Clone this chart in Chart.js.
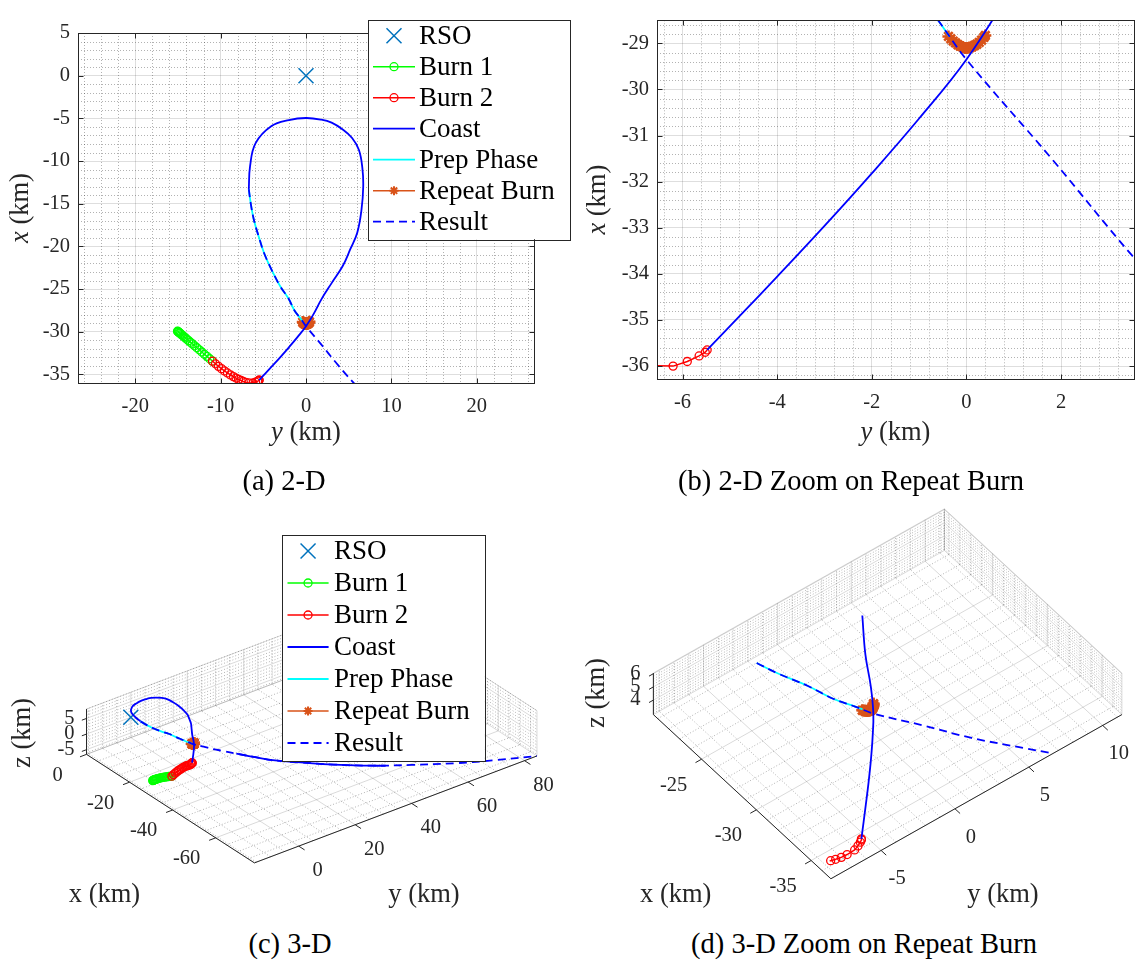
<!DOCTYPE html>
<html>
<head>
<meta charset="utf-8">
<script src="https://cdn.jsdelivr.net/npm/chart.js@4.4.1/dist/chart.umd.min.js"></script>
<style>
  body { margin: 0; background: #fff; }
  #fig { position: relative; width: 1146px; height: 961px; font-family: 'Liberation Serif', serif; color: #000; }
  #fig canvas { position: absolute; }
  .cap { position: absolute; font-size: 28.5px; transform: translate(-50%, -50%); white-space: nowrap; }
</style>
</head>
<body>
<div id="fig">
  <canvas id="ca" width="573" height="460" style="left:0;top:0"></canvas>
  <canvas id="cb" width="573" height="460" style="left:573px;top:0"></canvas>
  <canvas id="cc" width="573" height="430" style="left:0;top:490px"></canvas>
  <canvas id="cd" width="573" height="430" style="left:573px;top:490px"></canvas>
  <div class="cap" style="left:284px;top:481px">(a) 2-D</div>
  <div class="cap" style="left:851px;top:481px">(b) 2-D Zoom on Repeat Burn</div>
  <div class="cap" style="left:290px;top:944px">(c) 3-D</div>
  <div class="cap" style="left:864px;top:944px">(d) 3-D Zoom on Repeat Burn</div>
</div>
<script>
// trajectory pieces, every point is [x, y, z] in km
const rso = [[0, 0, 0]];
const burn1 = [
  [-29.94, -15.05, -1.8], [-29.97, -15.0, -1.75], [-30.01, -14.95, -1.7], [-30.07, -14.88, -1.65],
  [-30.14, -14.8, -1.6], [-30.22, -14.7, -1.52], [-30.33, -14.58, -1.45], [-30.44, -14.45, -1.37],
  [-30.57, -14.3, -1.28], [-30.71, -14.13, -1.2], [-30.87, -13.95, -1.1], [-31.04, -13.75, -1.0],
  [-31.23, -13.53, -0.92], [-31.42, -13.3, -0.83], [-31.64, -13.05, -0.75], [-31.87, -12.78, -0.66],
  [-32.11, -12.5, -0.58], [-32.37, -12.2, -0.5], [-32.63, -11.9, -0.42], [-32.88, -11.6, -0.35],
  [-33.16, -11.28, -0.27], [-33.44, -10.95, -0.2]
];
const burn2 = [
  [-33.44, -10.95, -0.2], [-33.75, -10.6, 0.3], [-34.05, -10.25, 0.8], [-34.32, -9.9, 1.2],
  [-34.58, -9.55, 1.6], [-34.82, -9.2, 1.9], [-35.05, -8.85, 2.2], [-35.25, -8.5, 2.45],
  [-35.42, -8.2, 2.65], [-35.57, -7.9, 2.8], [-35.7, -7.6, 2.92], [-35.82, -7.35, 2.96],
  [-35.93, -7.05, 3.0], [-35.99, -6.7, 3.04], [-36.0, -6.2, 3.08], [-35.9, -5.9, 3.12],
  [-35.78, -5.65, 3.15], [-35.7, -5.52, 3.18], [-35.65, -5.48, 3.2]
];
const coast1 = [
  [-35.65, -5.48, 3.2], [-34.87, -4.75, 3.45], [-34.06, -4.0, 3.65], [-32.96, -3.0, 3.85],
  [-31.82, -2.0, 4.0], [-30.63, -1.0, 4.2], [-29.35, 0.0, 4.4], [-27.9, 0.9, 4.8],
  [-26.2, 1.8, 5.3], [-24.3, 3.0, 6.05], [-22.3, 4.3, 6.5], [-20.3, 5.2, 6.8],
  [-18.4, 6.0, 7.0], [-15.7, 6.5, 7.2], [-13.0, 6.7, 7.35], [-10.8, 6.6, 7.45],
  [-8.7, 6.2, 7.55], [-7.3, 5.4, 7.6], [-6.3, 4.3, 7.65], [-5.5, 3.0, 7.65],
  [-5.15, 1.8, 7.6], [-4.96, 0.0, 7.55], [-5.2, -2.0, 7.45], [-5.9, -4.04, 7.35],
  [-7.9, -5.9, 7.2], [-10.6, -6.55, 7.05], [-13.3, -6.7, 6.9]
];
const coast2 = [
  [-38.5, 8.0, 2.8], [-42, 11.5, 2.1], [-46, 16, 1.2], [-50, 22, 0.3],
  [-55, 30, -0.9], [-60, 39, -2.1], [-62, 43, -2.6]
];
const prep = [
  [-13.3, -6.7, 6.9], [-15.1, -6.45, 6.75], [-16.9, -6.1, 6.6], [-18.8, -5.55, 6.45],
  [-20.8, -4.9, 6.35], [-22.8, -4.0, 6.25], [-24.7, -3.0, 5.75], [-26.1, -2.05, 5.3],
  [-27.5, -1.35, 4.95], [-28.5, -0.6, 4.65], [-28.85, -0.36, 4.55]
];
const repeatBurn = [
  [-28.85, -0.38, 4.5], [-28.9, -0.33, 4.49], [-28.95, -0.28, 4.48], [-28.99, -0.23, 4.47],
  [-29.03, -0.18, 4.46], [-29.06, -0.13, 4.46], [-29.08, -0.08, 4.45], [-29.1, -0.03, 4.45],
  [-29.1, 0.02, 4.45], [-29.09, 0.07, 4.45], [-29.07, 0.12, 4.46], [-29.05, 0.17, 4.46],
  [-29.02, 0.22, 4.47], [-28.98, 0.27, 4.48], [-28.93, 0.32, 4.49], [-28.87, 0.37, 4.5],
  [-28.83, 0.4, 4.5]
];
const result = [
  [-13.3, -6.7, 6.9], [-15.1, -6.45, 6.75], [-16.9, -6.1, 6.6], [-18.8, -5.55, 6.45],
  [-20.8, -4.9, 6.35], [-22.8, -4.0, 6.25], [-24.7, -3.0, 5.75], [-26.1, -2.05, 5.3],
  [-27.5, -1.35, 4.95], [-28.5, -0.6, 4.65], [-29.35, 0.0, 4.4], [-31.5, 1.8, 4.0],
  [-33.6, 3.5, 3.6], [-35.9, 5.5, 3.3], [-38.5, 8.0, 2.8], [-42, 11.5, 2.1],
  [-46, 16, 1.2], [-50, 22, 0.3], [-55, 30, -0.9], [-60, 39, -2.1],
  [-65, 50, -3.4], [-70, 62, -4.7], [-74, 73, -5.7], [-78, 84.4, -6.5]
];

// tick labels
const ticksAx = [-20, -10, 0, 10, 20];
const ticksAy = [-35, -30, -25, -20, -15, -10, -5, 0, 5];
const ticksBx = [-6, -4, -2, 0, 2];
const ticksBy = [-36, -35, -34, -33, -32, -31, -30, -29];
const ticksCx = [-60, -40, -20, 0];
const ticksCy = [0, 20, 40, 60, 80];
const ticksCz = [-5, 0, 5];
const ticksDx = [-35, -30, -25];
const ticksDy = [-5, 0, 5, 10];
const ticksDz = [4, 5, 6];

const series = [
  { label: 'RSO', pts: rso, color: '#0072BD', marker: 'crossRot', r: 10.6, mw: 1.5, lw: 0 },
  { label: 'Burn 1', pts: burn1, color: '#00FF00', marker: 'circle', r: 4, mw: 1.3, lw: 1.5 },
  { label: 'Burn 2', pts: burn2, color: '#FF0000', marker: 'circle', r: 4, mw: 1.3, lw: 1.5 },
  { label: 'Coast', pts: [...coast1, null, ...coast2], color: '#0000FF', lw: 1.8, smooth: true },
  { label: 'Prep Phase', pts: prep, color: '#00FFFF', lw: 1.8, smooth: true },
  { label: 'Repeat Burn', pts: repeatBurn, color: '#D95319', marker: 'star', r: 6, mw: 2.6, lw: 1.5, legendR: 4.5, legendW: 2 },
  { label: 'Result', pts: result, color: '#0000FF', lw: 1.8, dash: [8, 5], smooth: true }
];
// first one ends up on top
const drawOrder = ['Result', 'Prep Phase', 'Coast', 'Repeat Burn', 'Burn 2', 'Burn 1', 'RSO'];

Chart.defaults.font.family = "'Liberation Serif', serif";
Chart.defaults.font.size = 20.5;
Chart.defaults.color = '#262626';

const FONT = "'Liberation Serif', serif";
const INK = '#262626';
const MAJOR = 'rgba(0,0,0,0.13)';
const MINOR = 'rgba(0,0,0,0.3)';

function steps(lo, hi, step) {
  const out = [];
  for (let k = Math.ceil(lo / step - 1e-9); k * step <= hi + 1e-9; k++) out.push(+(k * step).toFixed(6));
  return out;
}
const notIn = list => v => !list.some(m => Math.abs(m - v) < 1e-6);

function marker(ctx, style, x, y, r) {
  ctx.beginPath();
  if (style === 'circle') {
    ctx.arc(x, y, r, 0, Math.PI * 2);
  } else {
    const d = r * Math.SQRT1_2;
    ctx.moveTo(x - d, y - d); ctx.lineTo(x + d, y + d);
    ctx.moveTo(x + d, y - d); ctx.lineTo(x - d, y + d);
    if (style === 'star') {
      ctx.moveTo(x - r, y); ctx.lineTo(x + r, y);
      ctx.moveTo(x, y - r); ctx.lineTo(x, y + r);
    }
  }
  ctx.stroke();
}

function mixedText(ctx, parts, x, y, rot) {
  ctx.save();
  ctx.translate(x, y);
  if (rot) ctx.rotate(rot);
  ctx.fillStyle = INK;
  ctx.textBaseline = 'middle';
  const w = parts.map(p => { ctx.font = p[1]; return ctx.measureText(p[0]).width; });
  let cx = -w.reduce((a, b) => a + b, 0) / 2;
  parts.forEach((p, i) => { ctx.font = p[1]; ctx.fillText(p[0], cx, 0); cx += w[i]; });
  ctx.restore();
}
const label = (name, italic) => [[name, (italic ? 'italic ' : '') + '26.5px ' + FONT], [' (km)', '26.5px ' + FONT]];

const legendBox = {
  id: 'legendBox',
  afterDraw(chart, args, o) {
    const ctx = chart.ctx;
    ctx.save();
    ctx.fillStyle = '#fff';
    ctx.fillRect(o.left, o.top, o.width, o.height);
    ctx.strokeStyle = INK; ctx.lineWidth = 1;
    ctx.strokeRect(Math.round(o.left) + 0.5, Math.round(o.top) + 0.5, Math.round(o.width), Math.round(o.height));
    ctx.font = '27px ' + FONT;
    ctx.textBaseline = 'middle';
    series.forEach((s, i) => {
      const y = o.firstRow + i * o.rowGap;
      ctx.strokeStyle = s.color;
      if (s.lw) {
        ctx.lineWidth = s.lw;
        ctx.setLineDash(s.dash || []);
        ctx.beginPath(); ctx.moveTo(o.lineX0, y); ctx.lineTo(o.lineX1, y); ctx.stroke();
        ctx.setLineDash([]);
      }
      if (s.marker) {
        ctx.lineWidth = s.legendW || s.mw;
        marker(ctx, s.marker, (o.lineX0 + o.lineX1) / 2, y, s.legendR || (s.marker === 'circle' ? 4 : s.r));
      }
      ctx.fillStyle = '#000';
      ctx.fillText(s.label, o.textX, y + 1);
    });
    ctx.restore();
  }
};

// minor grid, box, inward ticks and axis titles of the 2-D plots
const frame2d = {
  id: 'frame2d',
  beforeDatasetsDraw(chart, args, o) {
    const { ctx, chartArea: a, scales: { x, y } } = chart;
    ctx.save();
    ctx.strokeStyle = MINOR; ctx.lineWidth = 1; ctx.setLineDash([1, 2]);
    ctx.beginPath();
    steps(x.min, x.max, o.minorX).filter(notIn(o.ticksX)).forEach(v => {
      const p = Math.round(x.getPixelForValue(v)) + 0.5;
      ctx.moveTo(p, a.top); ctx.lineTo(p, a.bottom);
    });
    steps(y.min, y.max, o.minorY).filter(notIn(o.ticksY)).forEach(v => {
      const p = Math.round(y.getPixelForValue(v)) + 0.5;
      ctx.moveTo(a.left, p); ctx.lineTo(a.right, p);
    });
    ctx.stroke();
    ctx.restore();
  },
  afterDatasetsDraw(chart, args, o) {
    const { ctx, chartArea: a, scales: { x, y } } = chart;
    ctx.save();
    ctx.strokeStyle = INK; ctx.lineWidth = 1;
    const L = Math.round(a.left) + 0.5, R = Math.round(a.right) + 0.5;
    const T = Math.round(a.top) + 0.5, B = Math.round(a.bottom) + 0.5;
    ctx.strokeRect(L, T, R - L, B - T);
    ctx.beginPath();
    o.ticksX.forEach(v => {
      const p = Math.round(x.getPixelForValue(v)) + 0.5;
      ctx.moveTo(p, B); ctx.lineTo(p, B - 5); ctx.moveTo(p, T); ctx.lineTo(p, T + 5);
    });
    o.ticksY.forEach(v => {
      const p = Math.round(y.getPixelForValue(v)) + 0.5;
      ctx.moveTo(L, p); ctx.lineTo(L + 5, p); ctx.moveTo(R, p); ctx.lineTo(R - 5, p);
    });
    ctx.stroke();
    ctx.restore();
  },
  afterDraw(chart, args, o) {
    const { ctx, chartArea: a } = chart;
    mixedText(ctx, label('y', true), (a.left + a.right) / 2, a.bottom + o.titleDy);
    mixedText(ctx, label('x', true), a.left + o.titleDx, (a.top + a.bottom) / 2, -Math.PI / 2);
  }
};

function build2d(s) {
  return s.pts.map(p => p ? { x: p[1], y: p[0], real: true } : { x: null, y: null });
}

function makeDatasets(toData, clip) {
  return drawOrder.map(name => {
    const s = series.find(q => q.label === name);
    return {
      label: s.label,
      data: toData(s),
      showLine: s.lw > 0,
      borderColor: s.color,
      borderWidth: s.lw,
      borderDash: s.dash || [],
      tension: s.smooth ? 0.4 : 0,
      spanGaps: false,
      pointStyle: s.marker || 'circle',
      pointRadius: c => (!s.marker || (c.raw && c.raw.real === false)) ? 0 : s.r,
      pointBorderWidth: s.mw || 1,
      pointBorderColor: s.color,
      pointBackgroundColor: 'rgba(0,0,0,0)',
      pointHoverRadius: 0,
      clip: clip
    };
  });
}

function chart2d(id, cfg) {
  return new Chart(document.getElementById(id), {
    type: 'scatter',
    data: { datasets: makeDatasets(build2d, 0) },
    options: {
      responsive: false, animation: false, events: [],
      layout: { padding: cfg.pad },
      plugins: {
        legend: { display: false }, tooltip: { enabled: false },
        frame2d: { ticksX: cfg.ticksX, ticksY: cfg.ticksY, minorX: cfg.minorX, minorY: cfg.minorY, titleDx: cfg.titleDx, titleDy: cfg.titleDy },
        legendBox: cfg.legend || false
      },
      scales: {
        x: {
          type: 'linear', min: cfg.xlim[0], max: cfg.xlim[1],
          afterBuildTicks: s => { s.ticks = cfg.ticksX.map(v => ({ value: v })); },
          afterFit: s => { s.height = cfg.xh; },
          grid: { color: MAJOR, lineWidth: 1, drawTicks: false },
          border: { display: false },
          ticks: { padding: 11, autoSkip: false, maxRotation: 0 }
        },
        y: {
          type: 'linear', min: cfg.ylim[0], max: cfg.ylim[1],
          afterBuildTicks: s => { s.ticks = cfg.ticksY.map(v => ({ value: v })); },
          afterFit: s => { s.width = cfg.yw; },
          grid: { color: MAJOR, lineWidth: 1, drawTicks: false },
          border: { display: false },
          ticks: { padding: 8, autoSkip: false }
        }
      }
    },
    plugins: [frame2d, legendBox]
  });
}

// ---------- 3-D: orthographic box given by its floor corner and edge vectors ----------
function project(b, p) {
  const u = (b.lim.x[1] - p[0]) / (b.lim.x[1] - b.lim.x[0]);
  const v = (p[1] - b.lim.y[0]) / (b.lim.y[1] - b.lim.y[0]);
  const w = (p[2] - b.lim.z[0]) / (b.lim.z[1] - b.lim.z[0]);
  return [b.O[0] + u * b.Vx[0] + v * b.Vy[0] + w * b.Vz[0], b.O[1] + u * b.Vx[1] + v * b.Vy[1] + w * b.Vz[1]];
}
function inBox(p, lim) {
  const e = 1e-9;
  return p[0] >= lim.x[0] - e && p[0] <= lim.x[1] + e && p[1] >= lim.y[0] - e && p[1] <= lim.y[1] + e &&
    p[2] >= lim.z[0] - e && p[2] <= lim.z[1] + e;
}
function clipSeg(a, b, lim) {
  let t0 = 0, t1 = 1;
  const keys = ['x', 'y', 'z'];
  for (let k = 0; k < 3; k++) {
    const d = b[k] - a[k], lo = lim[keys[k]][0], hi = lim[keys[k]][1];
    for (const [p, q] of [[-d, a[k] - lo], [d, hi - a[k]]]) {
      if (Math.abs(p) < 1e-12) { if (q < 0) return null; continue; }
      const r = q / p;
      if (p < 0) { if (r > t1) return null; if (r > t0) t0 = r; }
      else { if (r < t0) return null; if (r < t1) t1 = r; }
    }
  }
  return [t0, t1];
}
function clipRun(run, lim) {
  const out = [];
  const lerp = (a, b, t) => [a[0] + (b[0] - a[0]) * t, a[1] + (b[1] - a[1]) * t, a[2] + (b[2] - a[2]) * t];
  const gap = () => { if (out.length && out[out.length - 1] !== null) out.push(null); };
  if (run.length === 1) { if (inBox(run[0], lim)) out.push({ p: run[0], real: true }); return out; }
  for (let i = 1; i < run.length; i++) {
    const a = run[i - 1], b = run[i];
    const sg = clipSeg(a, b, lim);
    if (!sg) { gap(); continue; }
    const [t0, t1] = sg;
    if (t0 > 1e-9 || out.length === 0 || out[out.length - 1] === null) {
      gap();
      out.push({ p: lerp(a, b, t0), real: t0 <= 1e-9 });
    }
    if (t1 < 1 - 1e-9) { out.push({ p: lerp(a, b, t1), real: false }); out.push(null); }
    else out.push({ p: b, real: true });
  }
  return out;
}
function build3d(b) {
  return s => {
    const runs = [[]];
    s.pts.forEach(p => { if (p) runs[runs.length - 1].push(p); else runs.push([]); });
    const out = [];
    runs.forEach(r => {
      if (!r.length) return;
      if (out.length) out.push(null);
      out.push(...clipRun(r, b.lim));
    });
    return out.map(q => {
      if (!q) return { x: null, y: null };
      const xy = project(b, q.p);
      return { x: xy[0], y: xy[1], real: q.real };
    });
  };
}

const frame3d = {
  id: 'frame3d',
  beforeDatasetsDraw(chart, args, o) {
    const { ctx, scales: { x: sx, y: sy } } = chart;
    const b = o.box;
    const [x0, x1] = b.lim.x, [y0, y1] = b.lim.y, [z0, z1] = b.lim.z;
    const P = (x, y, z) => { const q = project(b, [x, y, z]); return [sx.getPixelForValue(q[0]), sy.getPixelForValue(q[1])]; };
    const seg = (p, q) => { ctx.moveTo(p[0], p[1]); ctx.lineTo(q[0], q[1]); };
    const planes = (xs, ys, zs) => {
      xs.forEach(v => { seg(P(v, y0, z0), P(v, y1, z0)); seg(P(v, y1, z0), P(v, y1, z1)); });
      ys.forEach(v => { seg(P(x0, v, z0), P(x1, v, z0)); seg(P(x1, v, z0), P(x1, v, z1)); });
      zs.forEach(v => { seg(P(x1, y0, v), P(x1, y1, v)); seg(P(x1, y1, v), P(x0, y1, v)); });
    };
    ctx.save();
    ctx.lineWidth = 1;
    ctx.strokeStyle = MINOR; ctx.setLineDash([1, 2]);
    ctx.beginPath();
    planes(steps(x0, x1, o.minor[0]).filter(notIn(o.ticks[0])),
      steps(y0, y1, o.minor[1]).filter(notIn(o.ticks[1])),
      steps(z0, z1, o.minor[2]).filter(notIn(o.ticks[2])));
    ctx.stroke();
    ctx.setLineDash([]);
    ctx.strokeStyle = 'rgba(0,0,0,0.15)';
    ctx.beginPath();
    planes(o.ticks[0], o.ticks[1], o.ticks[2]);
    planes([x0, x1], [y0, y1], [z1]);
    ctx.stroke();

    // axes lines and outward ticks
    const O = P(x1, y0, z0), F = P(x0, y0, z0), Rr = P(x1, y1, z0);
    const unit = (a, c) => { const dx = a[0] - c[0], dy = a[1] - c[1], n = Math.hypot(dx, dy); return [dx / n, dy / n]; };
    const dX = unit(O, Rr), dY = unit(F, O);
    ctx.strokeStyle = INK;
    ctx.beginPath();
    seg(O, F); seg(F, P(x0, y1, z0)); seg(O, P(x1, y0, z1));
    o.ticks[0].forEach(v => { const p = P(v, y0, z0); seg(p, [p[0] + dX[0] * 7, p[1] + dX[1] * 7]); });
    o.ticks[1].forEach(v => { const p = P(x0, v, z0); seg(p, [p[0] + dY[0] * 7, p[1] + dY[1] * 7]); });
    o.ticks[2].forEach(v => { const p = P(x1, y0, v); seg(p, [p[0] + dX[0] * 5, p[1] + dX[1] * 5]); });
    ctx.stroke();

    ctx.fillStyle = INK;
    ctx.font = '20.5px ' + FONT;
    ctx.textBaseline = 'middle';
    ctx.textAlign = 'center';
    o.ticks[0].forEach(v => { const p = P(v, y0, z0); ctx.fillText(String(v), p[0] + o.xOff[0], p[1] + o.xOff[1]); });
    o.ticks[1].forEach(v => { const p = P(x0, v, z0); ctx.fillText(String(v), p[0] + o.yOff[0], p[1] + o.yOff[1]); });
    ctx.textAlign = 'right';
    o.ticks[2].forEach(v => { const p = P(x1, y0, v); ctx.fillText(String(v), p[0] + o.zOff[0], p[1] + o.zOff[1]); });
    ctx.restore();

    mixedText(ctx, label('x', false), o.titles[0][0], o.titles[0][1]);
    mixedText(ctx, label('y', false), o.titles[1][0], o.titles[1][1]);
    mixedText(ctx, label('z', false), o.titles[2][0], o.titles[2][1], -Math.PI / 2);
  }
};

function chart3d(id, cfg) {
  const cv = document.getElementById(id);
  return new Chart(cv, {
    type: 'scatter',
    data: { datasets: makeDatasets(build3d(cfg.box), false) },
    options: {
      responsive: false, animation: false, events: [],
      layout: { padding: 0 },
      plugins: {
        legend: { display: false }, tooltip: { enabled: false },
        frame3d: cfg,
        legendBox: cfg.legend || false
      },
      scales: {
        x: { type: 'linear', display: false, min: 0, max: cv.width },
        y: { type: 'linear', display: false, min: 0, max: cv.height, reverse: true }
      }
    },
    plugins: [frame3d, legendBox]
  });
}

chart2d('ca', {
  xlim: [-26.7, 26.7], ylim: [-36, 5], ticksX: ticksAx, ticksY: ticksAy, minorX: 2, minorY: 1,
  pad: { left: 0, right: 39, top: 33, bottom: 12.6 }, yw: 78, xh: 64.4, titleDx: -56.6, titleDy: 50,
  legend: { left: 368, top: 19.7, width: 202, height: 219.5, firstRow: 35.7, rowGap: 31, lineX0: 373, lineX1: 415, textX: 419 }
});
chart2d('cb', {
  xlim: [-6.54, 3.54], ylim: [-36.28, -28.5], ticksX: ticksBx, ticksY: ticksBy, minorX: 0.4, minorY: 0.2,
  pad: { left: 0, right: 5, top: 7, bottom: 12.6 }, yw: 84, xh: 68.4, titleDx: -59, titleDy: 54
});
chart3d('cc', {
  box: { lim: { x: [-78, 0], y: [-15.7, 84.4], z: [-6.5, 8] }, O: [77.7, 267.3], Vx: [175.3, 115], Vy: [295, -113.3], Vz: [0, -48] },
  ticks: [ticksCx, ticksCy, ticksCz], minor: [5, 5, 1],
  xOff: [-29, 21], yOff: [19, 24.5], zOff: [-12, 0],
  titles: [[104.5, 405], [424, 405], [23, 243]],
  legend: { left: 282, top: 45, width: 202.6, height: 226, firstRow: 61, rowGap: 32, lineX0: 287.5, lineX1: 328.6, textX: 334 }
});
chart3d('cd', {
  box: { lim: { x: [-36.8, -20.6], y: [-8.4, 11.3], z: [2.9, 6.05] }, O: [74, 225], Vx: [183, 171], Vy: [300, -171], Vz: [0, -43.3] },
  ticks: [ticksDx, ticksDy, ticksDz], minor: [1, 1, 0.2],
  xOff: [-28, 26], yOff: [16, 28.6], zOff: [-13, 0],
  titles: [[102.7, 405], [430, 405], [24, 203]]
});
</script>
</body>
</html>
